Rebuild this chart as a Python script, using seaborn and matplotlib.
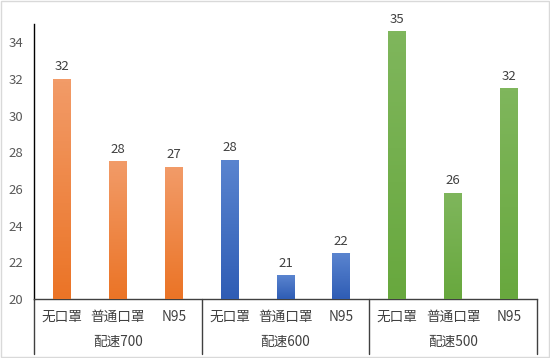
import matplotlib
matplotlib.use('Agg')
import matplotlib.pyplot as plt
import matplotlib.colors as mcolors
import numpy as np
import pandas as pd
import seaborn as sns

groups = ['配速700', '配速600', '配速500']
masks = ['无口罩', '普通口罩', 'N95']
values = [32.0, 27.5, 27.2, 27.6, 21.3, 22.5, 34.6, 25.8, 31.5]
labels = ['32', '28', '27', '28', '21', '22', '35', '26', '32']
# (top colour, bottom colour) per group
grad = {'配速700': ('#F29B68', '#EB7426'),
        '配速600': ('#5A84CF', '#2F5DB5'),
        '配速500': ('#7FB65C', '#68A83E')}

sns.set_theme(style='white')
plt.rcParams['font.family'] = ['Noto Sans CJK SC', 'DejaVu Sans']

df = pd.DataFrame({
    'key': [f'{g}-{m}' for g in groups for m in masks],
    'group': [g for g in groups for m in masks],
    'mask': [m for g in groups for m in masks],
    'value': values,
})

fig = plt.figure(figsize=(5.5, 3.58), dpi=100)
ax = fig.add_axes([0.062, 0.165, 0.914, 0.768])

sns.barplot(df, x='key', y='value', hue='group', palette=[grad[g][1] for g in groups],
            width=0.32, dodge=False, legend=False, ax=ax)

ax.set_ylim(20, 35)
ax.set_xlim(-0.5, 8.5)
ax.set_yticks(range(20, 35, 2))
ax.tick_params(axis='y', labelsize=9.5, labelcolor='#595959', length=0, pad=8)
ax.set_xticks(range(9))
ax.set_xticklabels(df['mask'], fontsize=9.8, color='#404040')
ax.tick_params(axis='x', length=0, pad=8)
ax.set_xlabel('')
ax.set_ylabel('')
sns.despine(ax=ax, top=True, right=True)
ax.spines['left'].set_color('#000000')
ax.spines['left'].set_linewidth(1.0)
ax.spines['bottom'].set_color('#404040')
ax.spines['bottom'].set_linewidth(1.0)

# gradient fill on each bar
for i, p in enumerate(ax.patches[:len(values)]):
    x0, w = p.get_x(), p.get_width()
    top = p.get_y() + p.get_height()
    c_top, c_bot = grad[df['group'][i]]
    cmap = mcolors.LinearSegmentedColormap.from_list('g', [c_bot, c_top])
    img = ax.imshow(np.linspace(0, 1, 64).reshape(-1, 1), cmap=cmap, aspect='auto',
                    extent=(x0, x0 + w, 20, top), origin='lower', zorder=3)
    img.set_clip_path(p)
    ax.text(x0 + w / 2, top + 0.3, labels[i], ha='center', va='bottom',
            fontsize=9.5, color='#404040', zorder=4)
ax.set_xlim(-0.5, 8.5)
ax.set_ylim(20, 35)

# group separators and group labels below the axis
trans = ax.get_xaxis_transform()
for xs in [-0.5, 2.5, 5.5, 8.5]:
    ax.plot([xs, xs], [0, -0.2], transform=trans, color='#404040', lw=1.0, clip_on=False)
for k, g in enumerate(groups):
    ax.text(3 * k + 1, -0.155, g, transform=trans, ha='center', va='center',
            fontsize=9.8, color='#404040')

# light outer frame
fig.patches.append(plt.Rectangle((0.002, 0.003), 0.996, 0.994, transform=fig.transFigure,
                                 fill=False, edgecolor='#D9D9D9', lw=1.0))

fig.savefig('out.png', dpi=100)
